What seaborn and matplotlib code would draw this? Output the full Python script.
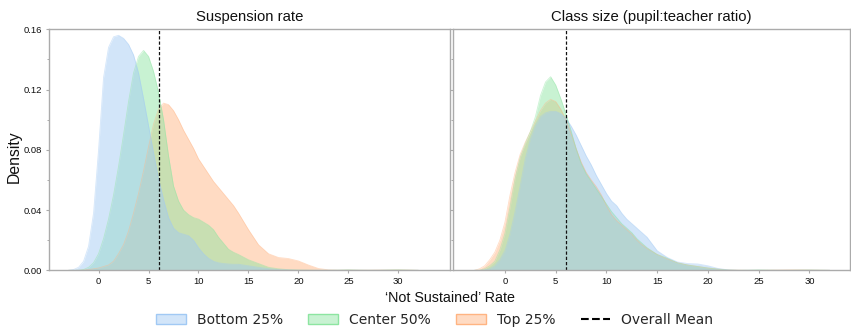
import numpy as np
import matplotlib
matplotlib.use("Agg")
import matplotlib.pyplot as plt
from matplotlib.patches import Patch
from matplotlib.lines import Line2D
from matplotlib.ticker import MultipleLocator
import seaborn as sns

# ---------------------------------------------------------------
# Density estimates of the 'Not Sustained' rate, per group
# evaluated on a common grid (0.5 steps up to 14, then 1.0 steps)
# ---------------------------------------------------------------
grid = np.concatenate([np.arange(-3, 14.01, 0.5), np.arange(15, 33, 1.0)])

groups = ["Bottom 25%", "Center 50%", "Top 25%"]
overall_mean = 6.05

# Suspension rate panel
susp_bottom = [0, 0.0005, 0.002, 0.006, 0.016, 0.038, 0.080, 0.128, 0.148, 0.155,
               0.156, 0.154, 0.150, 0.143, 0.131, 0.114, 0.096, 0.078, 0.061, 0.047,
               0.035, 0.028, 0.025, 0.024, 0.023, 0.020, 0.015, 0.011, 0.008, 0.006,
               0.005, 0.0045, 0.0042, 0.004, 0.004,
               0.003, 0.002, 0.0011, 0.0005, 0.0002, 0, 0, 0, 0, 0, 0, 0, 0, 0, 0, 0, 0, 0]
susp_center = [0, 0, 0, 0.0005, 0.002, 0.005, 0.011, 0.021, 0.034, 0.050,
               0.069, 0.090, 0.112, 0.131, 0.142, 0.146, 0.142, 0.132, 0.118, 0.100,
               0.076, 0.056, 0.046, 0.040, 0.037, 0.035, 0.034, 0.032, 0.030, 0.027,
               0.022, 0.018, 0.014, 0.012, 0.0105,
               0.007, 0.0045, 0.002, 0.001, 0.0004, 0.0002, 0.0001, 0, 0, 0.0001,
               0.0003, 0.0001, 0, 0, 0.0002, 0.0003, 0.0001, 0]
susp_top = [0, 0, 0, 0.0002, 0.0005, 0.001, 0.0015, 0.0025, 0.0035, 0.006,
            0.011, 0.017, 0.026, 0.038, 0.051, 0.066, 0.082, 0.097, 0.107, 0.111,
            0.110, 0.106, 0.100, 0.093, 0.087, 0.081, 0.074, 0.069, 0.064, 0.059,
            0.055, 0.051, 0.047, 0.043, 0.038,
            0.027, 0.017, 0.011, 0.0085, 0.0078, 0.0062, 0.0035, 0.0012, 0.0003, 0.0001,
            0.0002, 0.0001, 0.0001, 0.0002, 0.0002, 0.0003, 0.0002, 0]

# Class size panel
class_bottom = [0, 0, 0.0003, 0.001, 0.003, 0.007, 0.013, 0.024, 0.039, 0.056,
                0.074, 0.087, 0.096, 0.102, 0.1045, 0.1055, 0.1055, 0.104, 0.101, 0.096,
                0.090, 0.083, 0.076, 0.070, 0.063, 0.057, 0.051, 0.046, 0.043, 0.038,
                0.034, 0.031, 0.028, 0.025, 0.022,
                0.013, 0.0085, 0.0055, 0.0045, 0.0042, 0.003, 0.0012, 0.0003, 0, 0,
                0, 0, 0, 0, 0, 0, 0, 0]
class_center = [0, 0, 0.001, 0.003, 0.006, 0.0135, 0.0246, 0.042, 0.061, 0.075,
                0.084, 0.092, 0.102, 0.116, 0.125, 0.1285, 0.123, 0.114, 0.104, 0.093,
                0.081, 0.071, 0.064, 0.059, 0.054, 0.049, 0.044, 0.039, 0.035, 0.031,
                0.028, 0.025, 0.021, 0.018, 0.015,
                0.0105, 0.008, 0.005, 0.0035, 0.0025, 0.0015, 0.0008, 0.0002, 0, 0.0001,
                0.0003, 0.0001, 0, 0, 0.0001, 0.0002, 0.0001, 0]
class_top = [0, 0.001, 0.003, 0.007, 0.012, 0.020, 0.032, 0.050, 0.065, 0.077,
             0.085, 0.092, 0.099, 0.106, 0.111, 0.1135, 0.112, 0.107, 0.100, 0.091,
             0.081, 0.072, 0.065, 0.060, 0.0555, 0.050, 0.043, 0.037, 0.033, 0.030,
             0.027, 0.024, 0.020, 0.017, 0.0145,
             0.0105, 0.0075, 0.005, 0.0035, 0.0025, 0.0015, 0.0008, 0.0003, 0.0001, 0,
             0, 0.0001, 0.0002, 0.0003, 0.0003, 0.0002, 0.0001, 0]

panels = [
    ("Suspension rate", [susp_bottom, susp_center, susp_top]),
    ("Class size (pupil:teacher ratio)", [class_bottom, class_center, class_top]),
]

x_ticks = [0, 5, 10, 15, 20, 25, 30]
y_ticks = [0.00, 0.04, 0.08, 0.12, 0.16]

# ---------------------------------------------------------------
sns.set_theme(style="white")
plt.rcParams["font.family"] = ["Liberation Sans", "DejaVu Sans"]

palette = sns.color_palette("pastel")
colors = {"Bottom 25%": palette[0], "Center 50%": palette[2], "Top 25%": palette[1]}
spine_col = "#ababab"
fill_alpha = 0.48

W, H = 851, 331
fig = plt.figure(figsize=(W / 100, H / 100), dpi=100)
bottom = (H - 270.3) / H
height = 241.0 / H
ax1 = fig.add_axes([49.3 / W, bottom, 400.7 / W, height])
ax2 = fig.add_axes([453.3 / W, bottom, 396.7 / W, height])
xlims = [(-4.93, 35.17), (-5.09, 34.0)]

for ax, (title, series), xl in zip([ax1, ax2], panels, xlims):
    # later groups go underneath, first group drawn on top
    for name, dens in reversed(list(zip(groups, series))):
        c = colors[name]
        ax.fill_between(grid, dens, 0, color=c, alpha=fill_alpha, lw=0)
        sns.lineplot(x=grid, y=dens, ax=ax, color=c, lw=0.6, alpha=0.45,
                     estimator=None, sort=False, legend=False)
    ax.axvline(overall_mean, color="#111111", ls=(0, (2.6, 1.6)), lw=0.9)

    ax.set_xlim(*xl)
    ax.set_ylim(0, 0.16)
    ax.set_xticks(x_ticks)
    ax.set_xticklabels([str(t) for t in x_ticks])
    ax.set_yticks(y_ticks)
    ax.yaxis.set_minor_locator(MultipleLocator(0.02))
    ax.set_xlabel("")
    ax.set_ylabel("")
    ax.set_title(title, fontsize=10.7, pad=6, color="#111111")
    for sp in ax.spines.values():
        sp.set_visible(True)
        sp.set_color(spine_col)
        sp.set_linewidth(1.0)
    ax.tick_params(axis="both", which="major", direction="out", length=2.5, width=0.8,
                   color=spine_col, labelsize=6.8, pad=2.5, labelcolor="#111111",
                   bottom=True, left=True)
    ax.tick_params(axis="y", which="minor", direction="out", length=1.8, width=0.7,
                   color=spine_col, left=True)

ax1.set_yticklabels([f"{t:.2f}" for t in y_ticks])
ax2.set_yticklabels([])
ax1.set_ylabel("Density", fontsize=11.3, color="#111111")
ax1.yaxis.set_label_coords(-0.068, 0.47)

fig.text(450 / W, (H - 298) / H, "\u2018Not Sustained\u2019 Rate", ha="center", va="center",
         fontsize=10.3, color="#111111")

handles = []
for g in groups:
    fc = list(colors[g]) + [fill_alpha]
    handles.append(Patch(facecolor=fc, edgecolor=colors[g], lw=1.0))
handles.append(Line2D([0], [0], color="black", ls="--", lw=1.5))
labels = groups + ["Overall Mean"]
fig.legend(handles, labels, loc="center", bbox_to_anchor=(0.511, (H - 320) / H), ncol=4,
           frameon=False, prop={"family": "DejaVu Sans", "size": 10},
           handlelength=2.15, handleheight=0.8, handletextpad=0.8, columnspacing=1.8)

fig.savefig("out.png", dpi=100)
